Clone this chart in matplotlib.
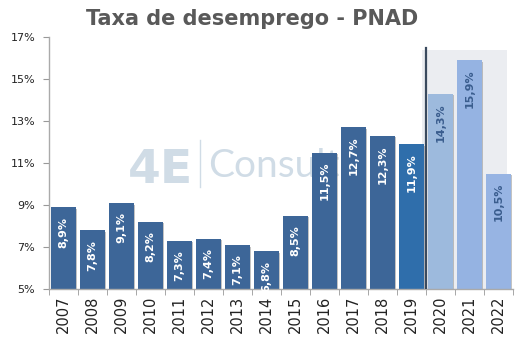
import matplotlib
matplotlib.use("Agg")
import matplotlib.pyplot as plt
import matplotlib.patheffects as pe
from matplotlib.patches import Rectangle

years = ["2007", "2008", "2009", "2010", "2011", "2012", "2013", "2014",
         "2015", "2016", "2017", "2018", "2019", "2020", "2021", "2022"]
rates = [8.9, 7.8, 9.1, 8.2, 7.3, 7.4, 7.1, 6.8, 8.5, 11.5, 12.7, 12.3,
         11.9, 14.3, 15.9, 10.5]
yticks = [5, 7, 9, 11, 13, 15, 17]

dark = "#3D6698"
colors = [dark] * 12 + ["#2F6EAB", "#9DBADD", "#95B3E2", "#97B4E3"]
label_colors = ["white"] * 13 + ["#3A5D8E"] * 3

fig = plt.figure(figsize=(5.19, 3.46), dpi=100)
ax = fig.add_axes([0.0944, 0.1647, 0.894, 0.7283])

x = list(range(len(years)))
ax.set_xlim(-0.5, len(years) - 0.5)
ax.set_ylim(5, 17)

# faint background logo
wm = "#D0DCE6"
ax.text(0.241, 0.42, "4E", transform=ax.transAxes, fontsize=34,
        fontweight="bold", color=wm, ha="center", va="baseline", zorder=0)
ax.plot([0.325, 0.325], [0.405, 0.59], transform=ax.transAxes,
        color=wm, lw=1, zorder=0)
ax.text(0.343, 0.444, "Consult", transform=ax.transAxes, fontsize=28,
        family="Lato", color=wm, ha="left", va="baseline", zorder=0)

# shaded projection area
ax.add_patch(Rectangle((12.35, 5), 2.95, 11.4, facecolor="#EBEDF1",
                       edgecolor="none", zorder=0.5))
ax.plot([12.5, 12.5], [5, 16.5], color="#3A4A5E", lw=1.6, zorder=3)

bars = ax.bar(x, rates, width=0.83, color=colors, zorder=2)
for b in bars:
    b.set_path_effects([pe.SimplePatchShadow(offset=(1.2, -1.2),
                                             shadow_rgbFace="#888888",
                                             alpha=0.5), pe.Normal()])

for xi, v, c in zip(x, rates, label_colors):
    ax.text(xi, v - 0.45, f"{v:.1f}%".replace(".", ","), rotation=90,
            ha="center", va="top", color=c, fontsize=8, fontweight="bold",
            zorder=4)

ax.set_yticks(yticks)
ax.set_yticklabels([f"{t}%" for t in yticks], fontsize=8, color="#222222")
ax.set_xticks(x)
ax.set_xticklabels(years, rotation=90, fontsize=10.5, color="#222222")
ax.set_xticks([i - 0.5 for i in range(len(years) + 1)], minor=True)
ax.tick_params(axis="x", which="major", length=0, pad=5)
ax.tick_params(axis="x", which="minor", length=4, color="#999999")
ax.tick_params(axis="y", length=4, color="#999999", pad=6)

for s in ["top", "right"]:
    ax.spines[s].set_visible(False)
for s in ["left", "bottom"]:
    ax.spines[s].set_color("#AAAAAA")
    ax.spines[s].set_linewidth(1)

fig.text(0.485, 0.945, "Taxa de desemprego - PNAD", ha="center", va="center",
         fontsize=15, fontweight="bold", color="#595959")

fig.savefig("out.png", dpi=100)
